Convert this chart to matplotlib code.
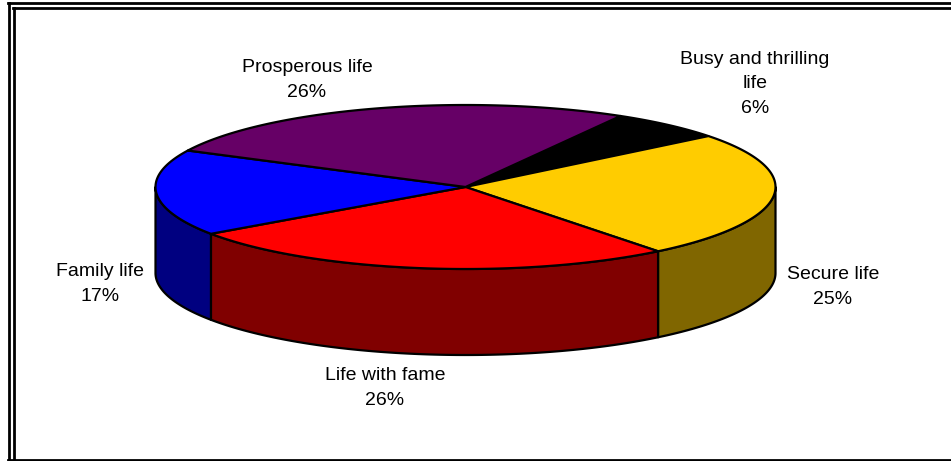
import numpy as np
import matplotlib.pyplot as plt
from matplotlib.patches import Polygon

labels = ['Busy and thrilling\nlife', 'Secure life', 'Life with fame', 'Family life', 'Prosperous life']
shares = [6, 25, 26, 17, 26]
top_colors = ['#000000', '#FFCC00', '#FF0000', '#0000FF', '#660066']
side_colors = ['#000000', '#806600', '#800000', '#000080', '#330033']
label_pos = [(755, 84), (833, 287), (385, 388), (100, 284), (307, 80)]

# ellipse geometry in pixel units
cx, cy = 465.5, 187
a, b = 310, 82
depth = 86
start = 30  # degrees, clockwise from 12 o'clock


def pt(theta, dy=0):
  t = np.radians(theta)
  return cx + a * np.sin(t), cy - b * np.cos(t) + dy


def arc(t1, t2, dy=0, n=120):
  ts = np.linspace(t1, t2, n)
  return np.column_stack(pt(ts, dy))


fig = plt.figure(figsize=(9.51, 4.61), dpi=100)
ax = fig.add_axes([0, 0, 1, 1])
ax.set_xlim(0, 951)
ax.set_ylim(461, 0)
ax.axis('off')

total = sum(shares)
angles = np.cumsum([0] + shares) / total * 360 + start

# side walls, only the front half (90..270 deg) is visible
for i in range(len(shares)):
  t1, t2 = angles[i], angles[i + 1]
  for off in (0, 360, -360):
    lo, hi = max(t1 + off, 90), min(t2 + off, 270)
    if hi > lo:
      top = arc(lo, hi)
      bot = arc(hi, lo, depth)
      ax.add_patch(Polygon(np.vstack([top, bot]), closed=True,
                           facecolor=side_colors[i], edgecolor='black', lw=1.6, joinstyle='round'))

# top face wedges
for i in range(len(shares)):
  pts = np.vstack([[cx, cy], arc(angles[i], angles[i + 1])])
  ax.add_patch(Polygon(pts, closed=True, facecolor=top_colors[i],
                       edgecolor='black', lw=1.6, joinstyle='round'))

for (x, y), lab, v in zip(label_pos, labels, shares):
  ax.text(x, y, f'{lab}\n{v}%', ha='center', va='center', fontsize=14,
          family='Liberation Sans', linespacing=1.58)

# double frame lines
ax.plot([8, 951], [3, 3], color='black', lw=2)
ax.plot([13, 951], [8, 8], color='black', lw=2)
ax.plot([9, 9], [3, 461], color='black', lw=2)
ax.plot([14, 14], [8, 461], color='black', lw=2)
ax.plot([8, 951], [459.5, 459.5], color='black', lw=2)

fig.savefig('out.png', dpi=100)
